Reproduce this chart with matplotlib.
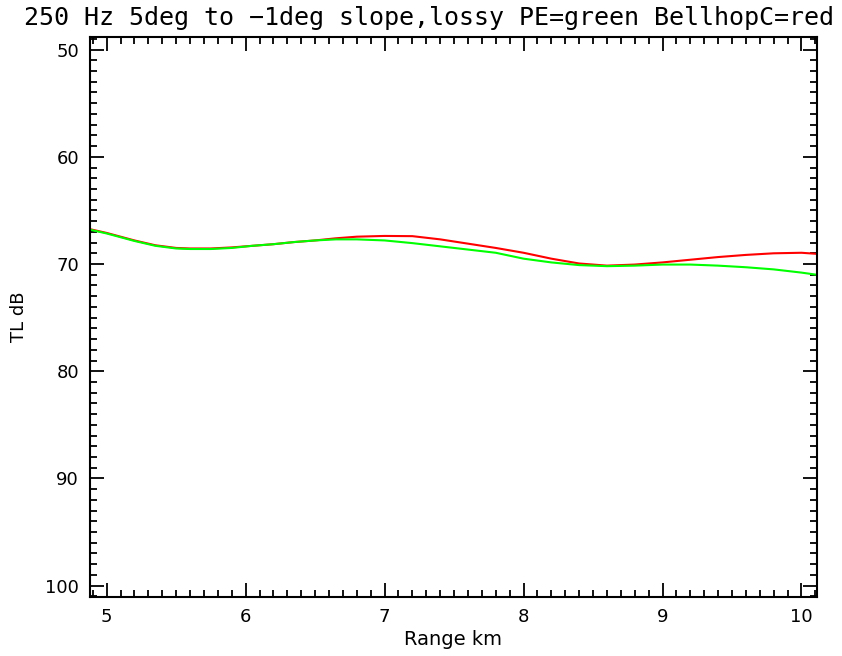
"""
TL vs range, 250 Hz, 5deg to -1deg lossy slope: PE (green) vs BellhopC (red).
Re-drawn in the old IDL plot look.
"""
import matplotlib
matplotlib.use("Agg")
import matplotlib.pyplot as plt
from matplotlib.ticker import MultipleLocator

# range in km (sample points)
range_km = [4.88, 5.0, 5.1, 5.2, 5.35, 5.5, 5.6, 5.75, 5.9, 6.05, 6.2, 6.35,
            6.5, 6.65, 6.8, 7.0, 7.2, 7.4, 7.6, 7.8, 8.0, 8.2, 8.4, 8.6,
            8.8, 9.0, 9.2, 9.4, 9.6, 9.8, 10.0, 10.11]

# BellhopC transmission loss, dB
tl_bellhop = [66.75, 67.1, 67.45, 67.8, 68.25, 68.5, 68.55, 68.55, 68.45, 68.3,
              68.15, 67.95, 67.8, 67.6, 67.45, 67.38, 67.4, 67.7, 68.1, 68.5,
              68.95, 69.5, 69.95, 70.15, 70.05, 69.85, 69.6, 69.35, 69.15,
              69.0, 68.95, 69.05]

# PE transmission loss, dB
tl_pe = [66.8, 67.15, 67.5, 67.85, 68.3, 68.55, 68.6, 68.6, 68.5, 68.3, 68.15,
         67.95, 67.8, 67.7, 67.7, 67.8, 68.05, 68.35, 68.65, 68.95, 69.5,
         69.85, 70.1, 70.2, 70.15, 70.05, 70.05, 70.15, 70.3, 70.5, 70.8, 71.0]

TITLE = "250 Hz 5deg to \u22121deg slope,lossy PE=green BellhopC=red"


def main():
    plt.rcParams["font.family"] = ["DejaVu Sans"]
    fig = plt.figure(figsize=(8.42, 6.56), dpi=100)
    ax = fig.add_axes([0.1069, 0.0899, 0.8631, 0.8541])

    ax.plot(range_km, tl_bellhop, color="#ff0000", lw=1.5)
    ax.plot(range_km, tl_pe, color="#00ff00", lw=1.5)

    ax.set_xlim(4.88, 10.11)
    ax.set_ylim(101.06, 48.8)  # TL increases downward

    ax.xaxis.set_major_locator(MultipleLocator(1))
    ax.xaxis.set_minor_locator(MultipleLocator(0.1))
    ax.yaxis.set_major_locator(MultipleLocator(10))
    ax.yaxis.set_minor_locator(MultipleLocator(1))
    ax.tick_params(which="both", direction="in", top=True, right=True,
                   width=1.3, color="black", labelsize=13)
    ax.tick_params(which="major", length=10, pad=8)
    ax.tick_params(which="minor", length=5)
    for s in ax.spines.values():
        s.set_linewidth(1.5)

    ax.set_xlabel("Range km", fontsize=14, labelpad=3)
    ax.set_ylabel("TL dB", fontsize=13, labelpad=12)
    # IDL puts the title over the whole window; monospace is close to its wide vector font
    fig.suptitle(TITLE, x=0.5095, y=0.972, va="center", fontsize=18,
                 family="DejaVu Sans Mono")

    fig.savefig("out.png", dpi=100)


if __name__ == "__main__":
    main()
